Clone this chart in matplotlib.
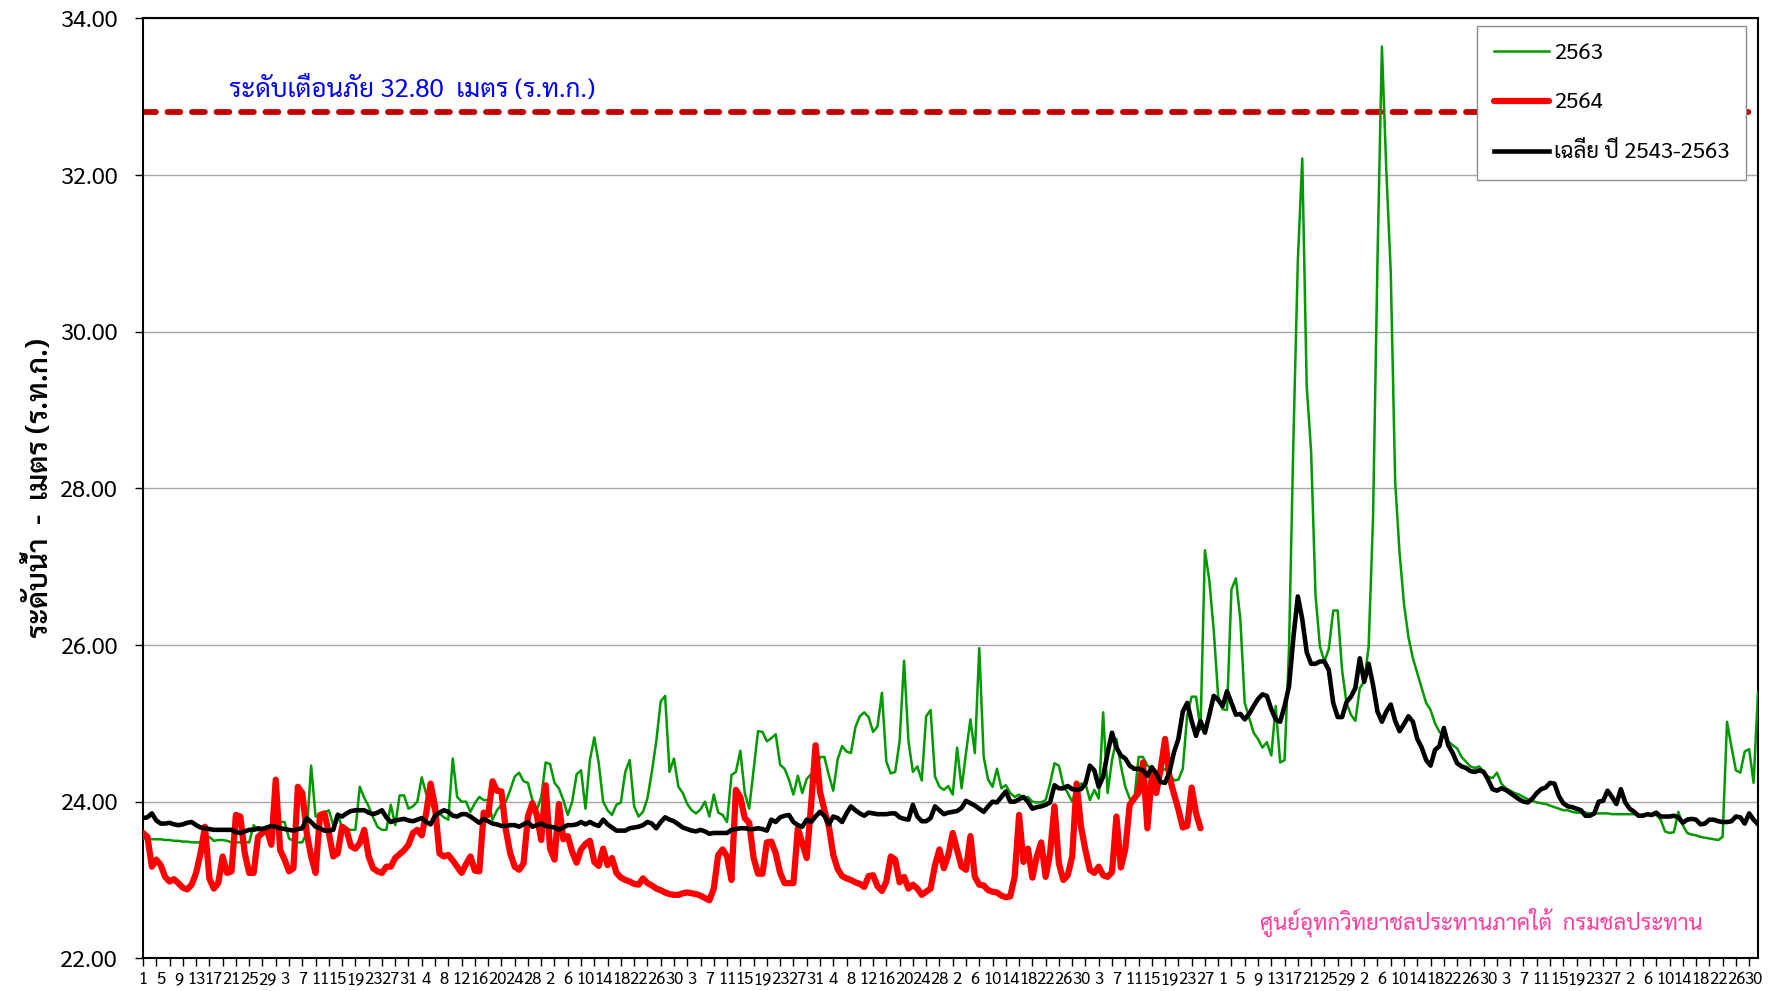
import matplotlib
matplotlib.use("Agg")
import matplotlib.pyplot as plt
from matplotlib import font_manager

# --------------------------------------------------------
# ข้อมูล (ระดับน้ำรายวัน 1 เม.ย. - 31 มี.ค., ม.ร.ท.ก.)

month_days = [30, 31, 30, 31, 31, 30, 31, 30, 31, 31, 29, 31]

level_2563 = [
    23.53, 23.53, 23.52, 23.52, 23.52, 23.51, 23.51, 23.50, 23.50, 23.49,
    23.49, 23.48, 23.48, 23.48, 23.50, 23.55, 23.50, 23.51, 23.51, 23.50,
    23.48, 23.48, 23.48, 23.48, 23.48, 23.70, 23.63, 23.66, 23.68, 23.68,
    23.72, 23.74, 23.74, 23.53, 23.50, 23.48, 23.48, 23.60, 24.46, 23.81,
    23.83, 23.86, 23.89, 23.70, 23.85, 23.66, 23.65, 23.64, 23.64, 24.19,
    24.05, 23.94, 23.80, 23.68, 23.64, 23.64, 23.96, 23.70, 24.08, 24.08,
    23.91, 23.94, 24.00, 24.31, 24.10, 23.99, 23.83, 23.85, 23.80, 23.77,
    24.55, 24.06, 24.00, 24.00, 23.87, 23.98, 24.06, 24.02, 24.02, 23.77,
    23.89, 23.96, 24.00, 24.15, 24.32, 24.37, 24.26, 24.24, 24.02, 23.89,
    24.06, 24.50, 24.48, 24.24, 24.17, 24.02, 23.83, 24.00, 24.35, 24.40,
    23.91, 24.53, 24.82, 24.49, 24.00, 23.89, 23.83, 23.96, 23.99, 24.38,
    24.53, 23.94, 23.81, 23.87, 24.04, 24.38, 24.77, 25.28, 25.35, 24.38,
    24.55, 24.19, 24.11, 23.97, 23.89, 23.85, 23.90, 24.00, 23.81, 24.09,
    23.86, 23.83, 23.74, 24.34, 24.38, 24.65, 24.11, 23.91, 24.40, 24.90,
    24.89, 24.77, 24.81, 24.86, 24.47, 24.42, 24.28, 24.09, 24.33, 24.11,
    24.29, 24.35, 24.38, 24.57, 24.57, 24.34, 24.14, 24.54, 24.71, 24.64,
    24.62, 24.95, 25.09, 25.14, 25.08, 24.89, 24.96, 25.39, 24.51, 24.36,
    24.38, 24.77, 25.80, 24.77, 24.38, 24.45, 24.27, 25.09, 25.17, 24.32,
    24.19, 24.15, 24.20, 24.09, 24.69, 24.17, 24.62, 25.05, 24.62, 25.96,
    24.57, 24.28, 24.19, 24.42, 24.17, 24.21, 24.11, 24.06, 24.09, 24.04,
    24.06, 24.00, 23.99, 23.99, 24.02, 24.23, 24.49, 24.46, 24.21, 24.11,
    24.00, 24.17, 24.23, 24.23, 24.02, 24.15, 24.04, 25.14, 24.11, 24.53,
    24.80, 24.46, 24.19, 24.04, 24.00, 24.57, 24.57, 24.46, 24.42, 24.33,
    24.38, 24.42, 24.36, 24.27, 24.28, 24.42, 25.11, 25.34, 25.34, 24.92,
    27.21, 26.82, 26.18, 25.34, 25.18, 25.17, 26.71, 26.85, 26.33, 25.26,
    25.07, 24.88, 24.80, 24.69, 24.76, 24.59, 25.22, 24.50, 24.53, 25.95,
    28.62, 30.91, 32.21, 29.31, 28.47, 26.63, 25.98, 25.79, 25.95, 26.44,
    26.44, 25.68, 25.26, 25.11, 25.03, 25.45, 25.53, 25.98, 27.63, 30.91,
    33.64, 32.05, 30.76, 28.08, 27.17, 26.52, 26.10, 25.83, 25.64, 25.45,
    25.26, 25.17, 25.00, 24.89, 24.84, 24.77, 24.72, 24.68, 24.57, 24.51,
    24.45, 24.43, 24.45, 24.38, 24.32, 24.30, 24.37, 24.23, 24.17, 24.14,
    24.11, 24.09, 24.06, 24.03, 24.01, 23.99, 23.98, 23.97, 23.95, 23.93,
    23.91, 23.89, 23.89, 23.87, 23.86, 23.86, 23.86, 23.85, 23.85, 23.85,
    23.85, 23.85, 23.84, 23.84, 23.84, 23.84, 23.84, 23.84, 23.83, 23.83,
    23.83, 23.83, 23.83, 23.77, 23.62, 23.60, 23.61, 23.87, 23.70, 23.60,
    23.58, 23.57, 23.55, 23.54, 23.53, 23.52, 23.51, 23.55, 25.02, 24.70,
    24.40, 24.37, 24.64, 24.67, 24.24, 25.40,
]

level_2564 = [
    23.60, 23.55, 23.17, 23.26, 23.19, 23.04, 22.98, 23.01, 22.96, 22.90,
    22.88, 22.94, 23.09, 23.34, 23.68, 23.02, 22.89, 22.96, 23.30, 23.09,
    23.11, 23.83, 23.81, 23.34, 23.09, 23.09, 23.55, 23.60, 23.64, 23.45,
    24.28, 23.38, 23.26, 23.11, 23.15, 24.19, 24.11, 23.60, 23.30, 23.09,
    23.83, 23.85, 23.60, 23.30, 23.34, 23.68, 23.64, 23.43, 23.40, 23.47,
    23.64, 23.30, 23.15, 23.11, 23.09, 23.17, 23.17, 23.28, 23.33, 23.38,
    23.45, 23.60, 23.64, 23.57, 23.85, 24.23, 23.94, 23.34, 23.30, 23.32,
    23.25, 23.17, 23.09, 23.20, 23.30, 23.12, 23.11, 23.86, 23.83, 24.26,
    24.14, 24.13, 23.64, 23.34, 23.17, 23.13, 23.21, 23.81, 23.98, 23.83,
    23.51, 24.21, 23.40, 23.26, 23.97, 23.52, 23.56, 23.36, 23.22, 23.39,
    23.46, 23.50, 23.23, 23.18, 23.40, 23.19, 23.28, 23.09, 23.03, 23.00,
    22.98, 22.95, 22.94, 23.02, 22.96, 22.93, 22.89, 22.87, 22.84, 22.82,
    22.81, 22.81, 22.83, 22.84, 22.83, 22.82, 22.80, 22.77, 22.74, 22.89,
    23.32, 23.39, 23.30, 23.00, 24.15, 24.06, 23.79, 23.73, 23.28, 23.08,
    23.08, 23.48, 23.49, 23.34, 23.09, 22.96, 22.96, 22.96, 23.66, 23.47,
    23.28, 23.96, 24.72, 24.13, 23.89, 23.69, 23.32, 23.14, 23.05, 23.02,
    23.00, 22.97, 22.95, 22.91, 23.05, 23.06, 22.92, 22.86, 22.98, 23.30,
    23.26, 22.97, 23.04, 22.89, 22.94, 22.89, 22.81, 22.85, 22.89, 23.19,
    23.39, 23.15, 23.32, 23.60, 23.38, 23.17, 23.13, 23.56, 23.04, 22.94,
    22.93, 22.87, 22.85, 22.84, 22.80, 22.78, 22.79, 23.04, 23.83, 23.23,
    23.40, 23.03, 23.30, 23.48, 23.04, 23.34, 23.94, 23.21, 23.00, 23.06,
    23.30, 24.23, 23.68, 23.38, 23.13, 23.09, 23.17, 23.06, 23.04, 23.10,
    23.81, 23.16, 23.39, 23.96, 24.04, 24.11, 24.50, 23.66, 24.34, 24.11,
    24.42, 24.80, 24.31, 24.10, 23.90, 23.67, 23.69, 24.18, 23.85, 23.66,
]

level_avg = [
    23.79, 23.80, 23.85, 23.76, 23.72, 23.72, 23.73, 23.71, 23.70, 23.71,
    23.73, 23.74, 23.70, 23.67, 23.66, 23.65, 23.64, 23.64, 23.64, 23.64,
    23.64, 23.61, 23.60, 23.62, 23.64, 23.64, 23.66, 23.65, 23.67, 23.69,
    23.68, 23.66, 23.65, 23.64, 23.63, 23.65, 23.66, 23.79, 23.74, 23.68,
    23.66, 23.63, 23.63, 23.64, 23.83, 23.81, 23.85, 23.88, 23.89, 23.89,
    23.89, 23.86, 23.84, 23.86, 23.89, 23.80, 23.74, 23.76, 23.77, 23.78,
    23.76, 23.75, 23.77, 23.79, 23.74, 23.71, 23.82, 23.86, 23.89, 23.87,
    23.82, 23.81, 23.84, 23.84, 23.81, 23.77, 23.73, 23.78, 23.75, 23.72,
    23.71, 23.69, 23.69, 23.70, 23.70, 23.68, 23.71, 23.74, 23.68, 23.70,
    23.72, 23.69, 23.68, 23.67, 23.64, 23.67, 23.70, 23.70, 23.71, 23.74,
    23.71, 23.74, 23.71, 23.69, 23.77, 23.71, 23.67, 23.63, 23.63, 23.63,
    23.66, 23.67, 23.68, 23.70, 23.74, 23.72, 23.66, 23.74, 23.80, 23.77,
    23.75, 23.71, 23.67, 23.65, 23.63, 23.62, 23.64, 23.62, 23.59, 23.60,
    23.60, 23.60, 23.60, 23.64, 23.65, 23.66, 23.66, 23.65, 23.65, 23.66,
    23.65, 23.63, 23.77, 23.74, 23.80, 23.82, 23.83, 23.74, 23.70, 23.68,
    23.77, 23.74, 23.81, 23.87, 23.82, 23.71, 23.81, 23.79, 23.74, 23.85,
    23.94, 23.89, 23.85, 23.82, 23.86, 23.85, 23.84, 23.84, 23.84, 23.85,
    23.85, 23.80, 23.78, 23.77, 23.96, 23.81, 23.75, 23.75, 23.79, 23.94,
    23.89, 23.84, 23.86, 23.87, 23.88, 23.92, 24.01, 23.98, 23.95, 23.91,
    23.87, 23.94, 24.00, 23.99, 24.06, 24.13, 24.00, 24.00, 24.03, 24.06,
    24.00, 23.91, 23.93, 23.94, 23.96, 23.99, 24.21, 24.17, 24.17, 24.20,
    24.16, 24.15, 24.16, 24.23, 24.46, 24.40, 24.19, 24.32, 24.62, 24.88,
    24.69, 24.59, 24.55, 24.46, 24.42, 24.42, 24.40, 24.33, 24.44, 24.36,
    24.25, 24.24, 24.38, 24.63, 24.80, 25.15, 25.26, 25.03, 24.84, 25.03,
    24.88, 25.11, 25.35, 25.30, 25.22, 25.41, 25.26, 25.11, 25.12, 25.05,
    25.12, 25.22, 25.31, 25.37, 25.35, 25.18, 25.05, 25.02, 25.22, 25.47,
    26.10, 26.62, 26.33, 25.91, 25.76, 25.76, 25.79, 25.79, 25.68, 25.26,
    25.08, 25.08, 25.27, 25.34, 25.45, 25.83, 25.53, 25.76, 25.49, 25.15,
    25.02, 25.15, 25.24, 25.03, 24.90, 24.99, 25.09, 25.02, 24.80, 24.69,
    24.53, 24.46, 24.66, 24.71, 24.94, 24.72, 24.62, 24.49, 24.45, 24.43,
    24.39, 24.38, 24.40, 24.38, 24.28, 24.16, 24.14, 24.17, 24.15, 24.11,
    24.07, 24.03, 24.00, 23.99, 24.04, 24.11, 24.16, 24.18, 24.24, 24.23,
    24.07, 23.98, 23.94, 23.93, 23.91, 23.89, 23.82, 23.82, 23.85, 24.00,
    24.01, 24.14, 24.06, 23.97, 24.16, 23.99, 23.91, 23.87, 23.82, 23.82,
    23.84, 23.83, 23.86, 23.81, 23.81, 23.81, 23.82, 23.80, 23.73, 23.77,
    23.78, 23.77, 23.71, 23.72, 23.77, 23.77, 23.75, 23.74, 23.74, 23.75,
    23.81, 23.80, 23.72, 23.85, 23.77, 23.71,
]

warning_level = 32.80
y_ticks = [22, 24, 26, 28, 30, 32, 34]

# --------------------------------------------------------
# ฟอนต์ไทย

available = {f.name for f in font_manager.fontManager.ttflist}
thai_font = "DejaVu Sans"
for name in ["Sarabun", "Noto Sans Thai Looped", "IBM Plex Sans Thai Looped", "Noto Sans Thai", "Anuphan"]:
    if name in available:
        thai_font = name
        break
plt.rcParams['font.family'] = [thai_font, 'DejaVu Sans']

# --------------------------------------------------------

day_of_month = [d for n in month_days for d in range(1, n + 1)]
days = list(range(len(day_of_month)))

fig = plt.figure(figsize=(17.7, 9.91), dpi=100)
ax = fig.add_axes([143 / 1770, 32.7 / 991, 1615 / 1770, 939.9 / 991])

ax.axhline(warning_level, color='#C00000', lw=4.2, linestyle=(0, (2.2, 2.0)),
           dash_capstyle='round', zorder=2)

ax.plot(days[:len(level_2563)], level_2563, color='#009900', lw=1.8,
        solid_joinstyle='round', label='2563', zorder=3)
ax.plot(days[:len(level_2564)], level_2564, color='#FF0000', lw=4.5,
        solid_joinstyle='round', solid_capstyle='round', label='2564', zorder=4)
ax.plot(days[:len(level_avg)], level_avg, color='#000000', lw=3.3,
        solid_joinstyle='round', label='เฉลี่ย ปี 2543-2563', zorder=5)

ax.set_xlim(0, len(days) - 1)
ax.set_ylim(y_ticks[0], y_ticks[-1])

# แกน y
ax.set_yticks(y_ticks)
ax.set_yticklabels([f"{v:.2f}" for v in y_ticks])
ax.tick_params(axis='y', direction='out', length=6, width=1, pad=12, labelsize=17)
ax.grid(axis='y', color='#A6A6A6', lw=1)
ax.set_axisbelow(True)

# แกน x: ขีดทุก 3 วัน ตัวเลขวันที่ทุก 4 วัน
ax.xaxis.remove_overlapping_locs = False
ax.set_xticks(days[::3])
ax.set_xticklabels([])
ax.set_xticks(days[::4], minor=True)
ax.set_xticklabels([str(day_of_month[i]) for i in days[::4]], minor=True)
ax.tick_params(axis='x', which='major', direction='out', length=6, width=1)
ax.tick_params(axis='x', which='minor', length=0, pad=9, labelsize=12)

for s in ax.spines.values():
    s.set_color('black')
    s.set_linewidth(1.5)

ax.set_ylabel("ระดับน้ำ  -  เมตร (ร.ท.ก.)", fontsize=21, fontweight='semibold')
ax.yaxis.set_label_coords(-0.064, 0.5)
ax.yaxis.label.set_va('center')

ax.text(0.053, 0.924, f"ระดับเตือนภัย {warning_level:.2f}  เมตร (ร.ท.ก.)",
        transform=ax.transAxes, color='#0000FF', fontsize=18.7, va='center', ha='left')

ax.text(0.829, 0.0386, "ศูนย์อุทกวิทยาชลประทานภาคใต้  กรมชลประทาน",
        transform=ax.transAxes, color='#FF3C9E', fontsize=16, va='center', ha='center')

leg = ax.legend(loc='upper right', bbox_to_anchor=(0.9926, 0.992), borderaxespad=0,
                fontsize=16, frameon=True, fancybox=False, framealpha=1,
                edgecolor='#8C8C8C', handlelength=2.5, handletextpad=0.2,
                labelspacing=1.3, borderpad=0.75)
leg.get_frame().set_linewidth(1)
leg.set_zorder(10)

fig.savefig("out.png", dpi=100)
